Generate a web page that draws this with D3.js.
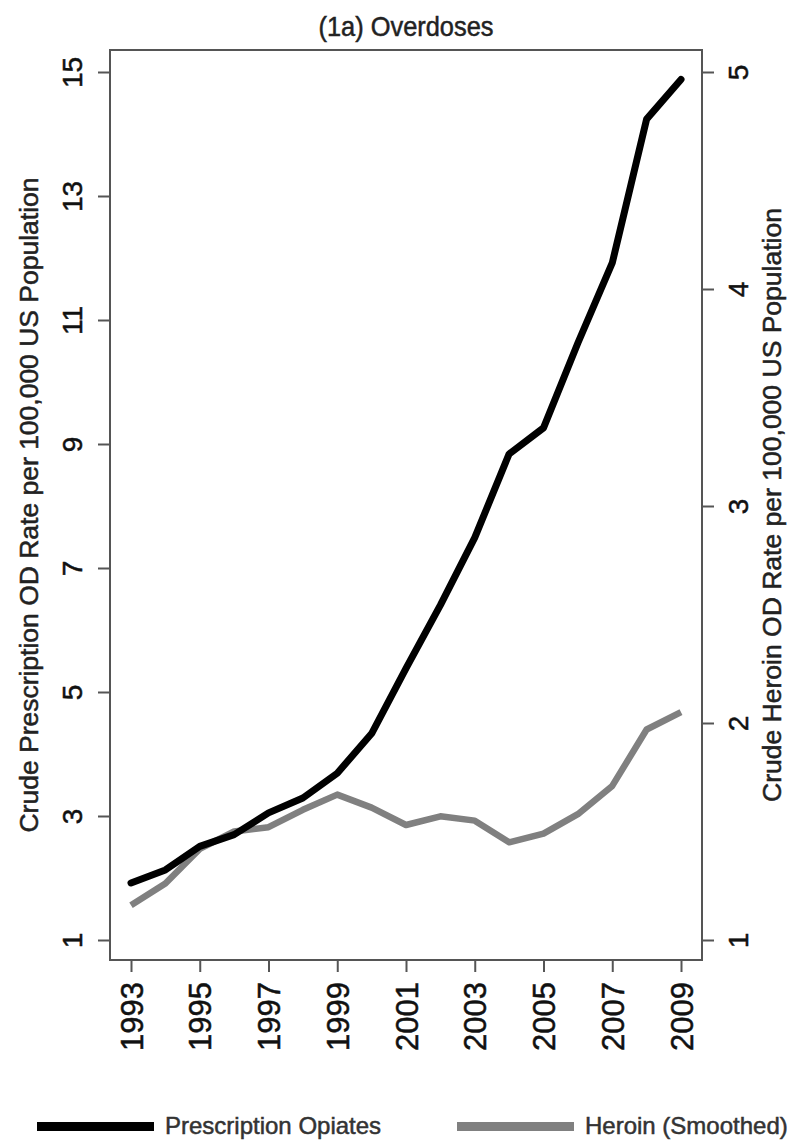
<!DOCTYPE html>
<html>
<head>
<meta charset="utf-8">
<script src="https://cdn.jsdelivr.net/npm/d3@7"></script>
<style>
  body { margin: 0; background: #fff; }
  text { font-family: "Liberation Sans", Arial, Helvetica, sans-serif; }
</style>
</head>
<body>
<div id="chart"></div>
<script>
var years = [1993, 1994, 1995, 1996, 1997, 1998, 1999, 2000, 2001, 2002, 2003, 2004, 2005, 2006, 2007, 2008, 2009];
// left axis series
var prescription = [1.92, 2.13, 2.51, 2.70, 3.05, 3.29, 3.69, 4.33, 5.38, 6.40, 7.49, 8.84, 9.26, 10.63, 11.92, 14.24, 14.88];
// right axis series
var heroin = [1.16, 1.26, 1.42, 1.50, 1.52, 1.60, 1.67, 1.61, 1.53, 1.57, 1.55, 1.45, 1.49, 1.58, 1.71, 1.97, 2.05];

var leftTicks = [1, 3, 5, 7, 9, 11, 13, 15];
var rightTicks = [1, 2, 3, 4, 5];
var yearTicks = [1993, 1995, 1997, 1999, 2001, 2003, 2005, 2007, 2009];

var title = "(1a) Overdoses";
var leftTitle = "Crude Prescription OD Rate per 100,000 US Population";
var rightTitle = "Crude Heroin OD Rate per 100,000 US Population";
var seriesNames = ["Prescription Opiates", "Heroin (Smoothed)"];
var seriesColors = ["#000000", "#808080"];

var W = 792, H = 1141;
var margin = {top: 50, right: 90, bottom: 181, left: 110},
    width = W - margin.left - margin.right,
    height = H - margin.top - margin.bottom;

var svg = d3.select("#chart").append("svg")
  .attr("width", W)
  .attr("height", H);

var g = svg.append("g")
  .attr("transform", "translate(" + margin.left + "," + margin.top + ")");

var x = d3.scaleLinear()
  .domain([1993, 2009])
  .range([21, width - 21]);

var yL = d3.scaleLinear()
  .domain([1, 15])
  .range([height - 20, 22]);

var yR = d3.scaleLinear()
  .domain([1, 5])
  .range([height - 20, 22]);

// frame
g.append("rect")
  .attr("x", 0)
  .attr("y", 0)
  .attr("width", width)
  .attr("height", height)
  .style("fill", "none")
  .style("stroke", "#555")
  .style("stroke-width", 2);

// thin outline so the text looks as heavy as the scan
function heavy(sel, col) {
  sel.style("fill", col).style("stroke", col).style("stroke-width", 0.5);
}

// left axis
var axL = g.append("g")
  .attr("class", "axis")
  .call(d3.axisLeft(yL).tickValues(leftTicks).tickSize(12).tickFormat(d3.format("d")));
axL.select(".domain").remove();
axL.selectAll("line").style("stroke", "#555").style("stroke-width", 2);
axL.selectAll("text")
  .attr("x", null).attr("dy", null)
  .attr("transform", "translate(-28,0) rotate(-90)")
  .style("text-anchor", "middle")
  .style("font-size", "28px")
  .call(heavy, "#111");

// right axis
var axR = g.append("g")
  .attr("class", "axis")
  .attr("transform", "translate(" + width + ",0)")
  .call(d3.axisRight(yR).tickValues(rightTicks).tickSize(12).tickFormat(d3.format("d")));
axR.select(".domain").remove();
axR.selectAll("line").style("stroke", "#555").style("stroke-width", 2);
axR.selectAll("text")
  .attr("x", null).attr("dy", null)
  .attr("transform", "translate(46,0) rotate(-90)")
  .style("text-anchor", "middle")
  .style("font-size", "28px")
  .call(heavy, "#111");

// bottom axis
var axB = g.append("g")
  .attr("class", "axis")
  .attr("transform", "translate(0," + height + ")")
  .call(d3.axisBottom(x).tickValues(yearTicks).tickSize(12).tickFormat(d3.format("d")));
axB.select(".domain").remove();
axB.selectAll("line").style("stroke", "#555").style("stroke-width", 2);
axB.selectAll("text")
  .attr("y", null).attr("dy", null)
  .attr("transform", "translate(11,22) rotate(-90)")
  .style("text-anchor", "end")
  .style("font-size", "31px")
  .call(heavy, "#111");

// axis titles
svg.append("text")
  .attr("transform", "translate(38," + (margin.top + height / 2) + ") rotate(-90)")
  .attr("textLength", 655)
  .attr("lengthAdjust", "spacingAndGlyphs")
  .style("text-anchor", "middle")
  .style("font-size", "25px")
  .text(leftTitle)
  .call(heavy, "#222");

svg.append("text")
  .attr("transform", "translate(781," + (margin.top + height / 2) + ") rotate(-90)")
  .attr("textLength", 594)
  .attr("lengthAdjust", "spacingAndGlyphs")
  .style("text-anchor", "middle")
  .style("font-size", "25px")
  .text(rightTitle)
  .call(heavy, "#222");

// title
svg.append("text")
  .attr("x", margin.left + width / 2)
  .attr("y", 36)
  .attr("textLength", 175)
  .attr("lengthAdjust", "spacingAndGlyphs")
  .style("text-anchor", "middle")
  .style("font-size", "28px")
  .text(title)
  .call(heavy, "#222");

// lines
var lineL = d3.line()
  .x(function(d, i) { return x(years[i]); })
  .y(function(d) { return yL(d); });
var lineR = d3.line()
  .x(function(d, i) { return x(years[i]); })
  .y(function(d) { return yR(d); });

g.append("path")
  .datum(heroin)
  .attr("d", lineR)
  .style("fill", "none")
  .style("stroke", seriesColors[1])
  .style("stroke-width", 6.5)
  .style("stroke-linejoin", "round");

g.append("path")
  .datum(prescription)
  .attr("d", lineL)
  .style("fill", "none")
  .style("stroke", seriesColors[0])
  .style("stroke-width", 7)
  .style("stroke-linejoin", "round")
  .style("stroke-linecap", "round");

// legend
var legend = svg.append("g")
  .attr("transform", "translate(0,1126)");

var legX = [37, 457];
seriesNames.forEach(function(name, i) {
  legend.append("rect")
    .attr("x", legX[i])
    .attr("y", -4)
    .attr("width", 117)
    .attr("height", 9)
    .style("fill", seriesColors[i]);
  legend.append("text")
    .attr("x", legX[i] + 128)
    .attr("y", 8)
    .style("font-size", "24px")
    .text(name)
    .call(heavy, "#333");
});
</script>
</body>
</html>
